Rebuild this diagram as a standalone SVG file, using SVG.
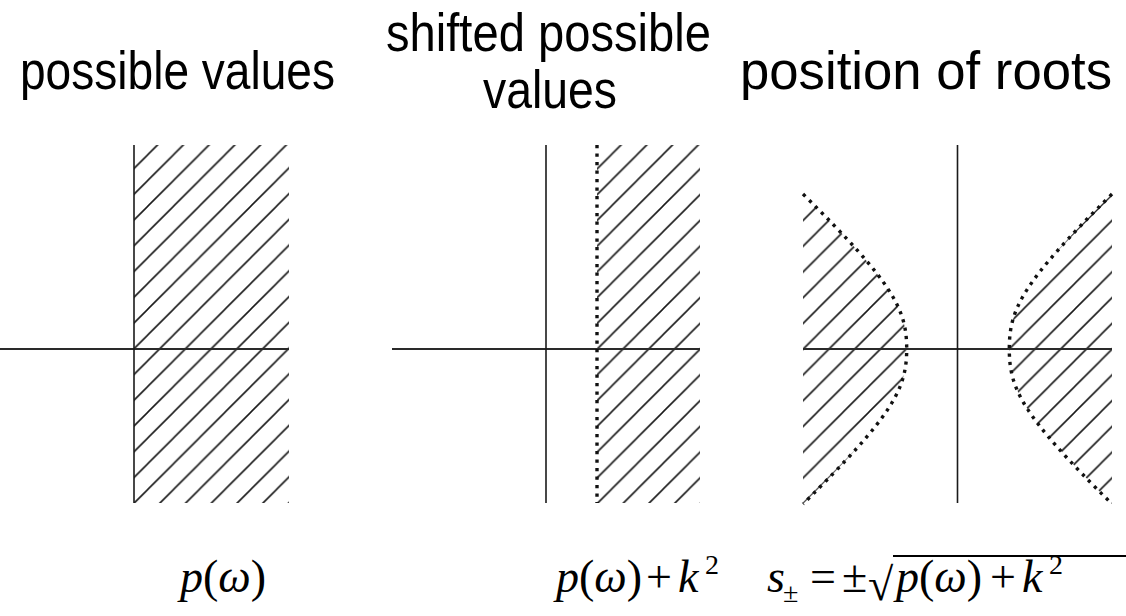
<svg xmlns="http://www.w3.org/2000/svg" width="1126" height="616" viewBox="0 0 1126 616">
<style>
.axis{stroke:#2a2a2a;stroke-width:2;fill:none}
.vline{stroke:#1a1a1a;stroke-width:1.6;fill:none}
.dots{stroke:#111;stroke-width:3.4;stroke-dasharray:3.2 5.3;fill:none}
.head{font-family:"Liberation Sans",Arial,sans-serif;font-size:54px;fill:#000}
.math{font-family:"Liberation Serif","Times New Roman",serif;font-size:46px;fill:#000}
.it{font-style:italic}
.sup{font-size:28px}
</style>
<defs>
<pattern id="hatch" patternUnits="userSpaceOnUse" width="25.75" height="25.75" patternTransform="translate(19.25 0)">
<path d="M0,25.75 L25.75,0 M-3,3 L3,-3 M22.75,28.75 L28.75,22.75" stroke="#1a1a1a" stroke-width="1.6"/>
</pattern>
</defs>
<rect width="1126" height="616" fill="#fff"/>
<g id="titles">
<text class="head" x="20" y="89" textLength="315" lengthAdjust="spacingAndGlyphs">possible values</text>
<text class="head" x="386" y="51" textLength="325" lengthAdjust="spacingAndGlyphs">shifted possible</text>
<text class="head" x="483" y="108" textLength="134" lengthAdjust="spacingAndGlyphs">values</text>
<text class="head" x="740" y="89" textLength="372" lengthAdjust="spacingAndGlyphs">position of roots</text>
</g>
<g id="panel1">
<rect x="134" y="145" width="155" height="358" fill="url(#hatch)"/>
<line class="axis" x1="0" y1="349" x2="289" y2="349"/>
<line class="vline" x1="134" y1="145" x2="134" y2="503"/>
</g>
<g id="panel2">
<rect x="597" y="145" width="103" height="358" fill="url(#hatch)"/>
<line class="axis" x1="392" y1="349" x2="700" y2="349"/>
<line class="vline" x1="546" y1="145" x2="546" y2="503"/>
<line class="dots" x1="597" y1="145" x2="597" y2="503"/>
</g>
<g id="panel3">
<path d="M803,194 C893,283 906.7,309 906.7,349 C906.7,389 893,415 803,504 Z" fill="url(#hatch)"/>
<path d="M1112,194 C1022,283 1009.3,309 1009.3,349 C1009.3,389 1022,415 1112,504 Z" fill="url(#hatch)"/>
<line class="axis" x1="803" y1="349" x2="1112" y2="349"/>
<line class="vline" x1="957.5" y1="145" x2="957.5" y2="503"/>
<path class="dots" d="M803,194 C893,283 906.7,309 906.7,349 C906.7,389 893,415 803,504"/>
<path class="dots" d="M1112,194 C1022,283 1009.3,309 1009.3,349 C1009.3,389 1022,415 1112,504"/>
</g>
<g id="formulas">
<text class="math" x="180" y="592"><tspan class="it">p</tspan>(<tspan class="it">ω</tspan>)</text>
<text class="math" x="556" y="592"><tspan class="it">p</tspan>(<tspan class="it">ω</tspan>)</text>
<text class="math" x="646" y="592">+</text>
<text class="math it" x="678" y="592">k</text>
<text class="math sup" x="705" y="574">2</text>
<text class="math it" x="767" y="592">s</text>
<text class="math sup" x="783" y="602">±</text>
<text class="math" x="810" y="592">=</text>
<text class="math" x="842" y="592">±</text>
<text class="math" x="868" y="600" font-size="56">√</text>
<line x1="893" y1="556" x2="1126" y2="556" stroke="#000" stroke-width="2"/>
<text class="math" x="896" y="592"><tspan class="it">p</tspan>(<tspan class="it">ω</tspan>)</text>
<text class="math" x="990" y="592">+</text>
<text class="math it" x="1022" y="592">k</text>
<text class="math sup" x="1049" y="574">2</text>
</g>
</svg>
